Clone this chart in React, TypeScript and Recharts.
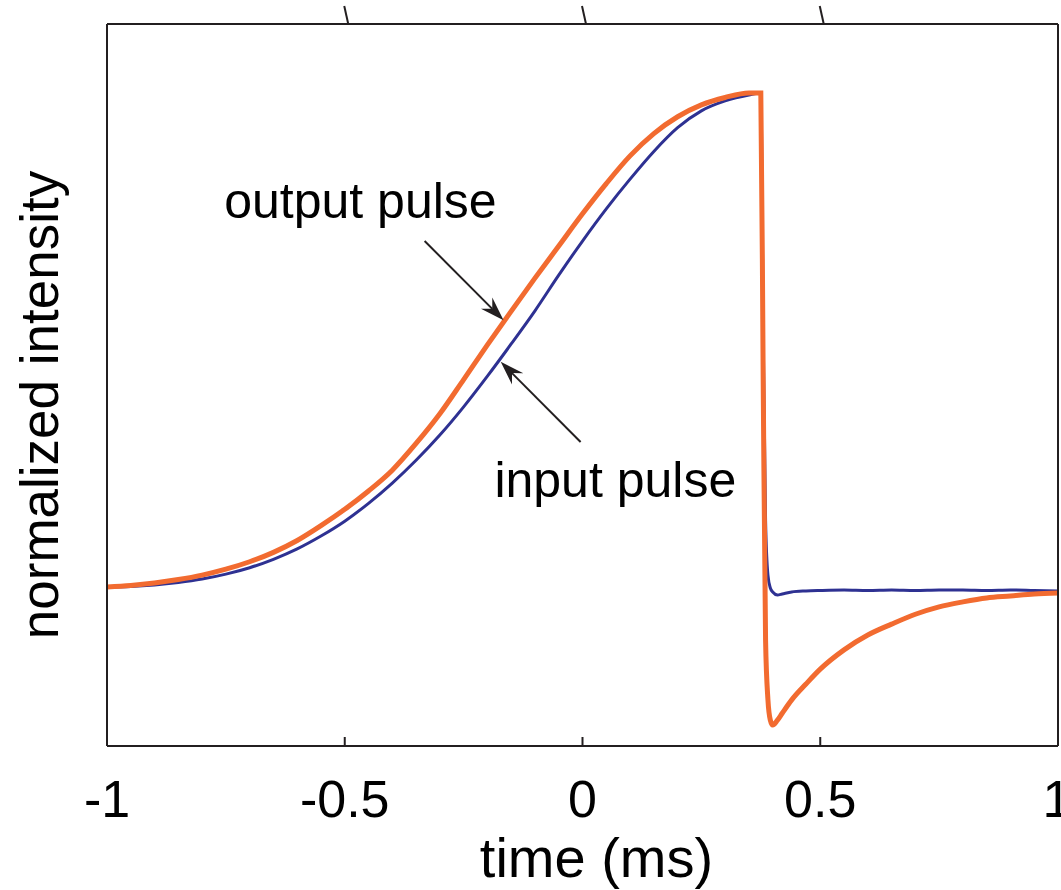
import React from "react";
import { LineChart, Line, XAxis, YAxis, ReferenceLine, ReferenceDot } from "recharts";

// time axis (ms), denser around the fall edge
const times = [
  -1, -0.95, -0.9, -0.85, -0.8, -0.75, -0.7, -0.65, -0.6, -0.55, -0.5, -0.45, -0.4, -0.35, -0.3,
  -0.25, -0.2, -0.15, -0.1, -0.05, 0, 0.05, 0.1, 0.15, 0.2, 0.25, 0.3, 0.35,
  0.375, 0.38, 0.385, 0.39, 0.395, 0.4, 0.41, 0.42, 0.44, 0.47, 0.5, 0.55, 0.6, 0.65,
  0.7, 0.75, 0.8, 0.85, 0.9, 0.95, 1,
];

const inputPulse = [
  0.0, 0.001, 0.004, 0.009, 0.016, 0.026, 0.039, 0.056, 0.077, 0.103, 0.133, 0.169, 0.21, 0.256, 0.307,
  0.364, 0.426, 0.491, 0.558, 0.63, 0.699, 0.764, 0.824, 0.88, 0.928, 0.962, 0.982, 0.994,
  0.998, 0.519, 0.135, 0.024, -0.002, -0.01, -0.016, -0.014, -0.01, -0.008, -0.007, -0.006, -0.007, -0.006,
  -0.007, -0.006, -0.006, -0.007, -0.006, -0.007, -0.008,
];

const outputPulse = [
  0.0, 0.003, 0.008, 0.015, 0.024, 0.036, 0.051, 0.07, 0.094, 0.124, 0.157, 0.194, 0.236, 0.29, 0.35,
  0.419, 0.489, 0.557, 0.624, 0.689, 0.754, 0.815, 0.871, 0.916, 0.95, 0.974, 0.989, 0.998,
  0.998, 0.418, -0.107, -0.228, -0.269, -0.279, -0.269, -0.255, -0.228, -0.196, -0.166, -0.127, -0.097, -0.075,
  -0.055, -0.04, -0.03, -0.022, -0.018, -0.014, -0.012,
];

const xTicks = [-1, -0.5, 0, 0.5, 1];
const xTickLabels = ["-1", "-0.5", "0", "0.5", "1"];
const topTicks = [-0.5, 0, 0.5];

const data = times.map((t, i) => ({ t, input: inputPulse[i], output: outputPulse[i] }));

const INK = "#231f20";
const ORANGE = "#f26b30";
const BLUE = "#2e3192";
const FONT = "'Liberation Sans', Arial, Helvetica, sans-serif";

function BottomTick(props: any) {
  const { x, y, payload } = props;
  const i = xTicks.indexOf(payload.value);
  const inner = payload.value > -1 && payload.value < 1;
  return (
    <g>
      {inner && <line x1={x} y1={y} x2={x} y2={y - 9} stroke={INK} strokeWidth={2} />}
      <text x={x} y={y + 71} textAnchor="middle" fontSize={52} fontFamily={FONT} fill="#000">
        {xTickLabels[i]}
      </text>
    </g>
  );
}

function TopTick(props: any) {
  const { x, y } = props;
  // the scanned figure is slightly sheared, ticks lean left
  return <line x1={x + 3.5} y1={y} x2={x - 0.5} y2={y - 18} stroke={INK} strokeWidth={2} />;
}

function Arrow(props: any) {
  const { x1, y1, x2, y2 } = props;
  const dx = x2 - x1;
  const dy = y2 - y1;
  const len = Math.hypot(dx, dy) || 1;
  const ux = dx / len;
  const uy = dy / len;
  const px = -uy;
  const py = ux;
  const L = 24, W = 8, N = 16;
  const bx = x2 - ux * L, by = y2 - uy * L;
  const nx = x2 - ux * N, ny = y2 - uy * N;
  const pts = [
    [x2, y2],
    [bx + px * W, by + py * W],
    [nx, ny],
    [bx - px * W, by - py * W],
  ].map((p) => p.join(",")).join(" ");
  return (
    <g>
      <line x1={x1} y1={y1} x2={nx} y2={ny} stroke={INK} strokeWidth={2} />
      <polygon points={pts} fill={INK} />
    </g>
  );
}

function note(text: string) {
  return (p: any) => {
    const vb = p.viewBox || {};
    const cx = (vb.x ?? 0) + (vb.width ?? 0) / 2;
    const cy = (vb.y ?? 0) + (vb.height ?? 0) / 2;
    return (
      <text x={cx} y={cy} dy="0.355em" textAnchor="middle" fontSize={50} fontFamily={FONT} fill="#000">
        {text}
      </text>
    );
  };
}

function YTitle(p: any) {
  const vb = p.viewBox || { x: 0, y: 24, width: 107, height: 722 };
  const x = vb.x + 39;
  const y = vb.y + vb.height / 2 + 20;
  return (
    <text x={x} y={y} dy="0.355em" transform={`rotate(-90, ${x}, ${y})`} textAnchor="middle"
      fontSize={53} fontFamily={FONT} fill="#000">
      normalized intensity
    </text>
  );
}

function XTitle(p: any) {
  const vb = p.viewBox || { x: 107, y: 746, width: 951, height: 144 };
  return (
    <text x={vb.x + vb.width / 2 + 14} y={vb.y + 131} textAnchor="middle" fontSize={56} fontFamily={FONT} fill="#000">
      time (ms)
    </text>
  );
}

export default function App() {
  const yDomain = [-0.3212, 1.1374];
  return (
    <div style={{ position: "absolute", left: 0, top: 0, width: 1061, height: 890, background: "#fff" }}>
      <LineChart width={1061} height={890} data={data} margin={{ top: 0, right: 0, bottom: 0, left: 0 }}>
        <XAxis
          xAxisId="bottom"
          dataKey="t"
          type="number"
          domain={[-1, 1]}
          ticks={xTicks}
          allowDataOverflow
          height={144}
          tickSize={0}
          tickMargin={0}
          tickLine={false}
          tick={<BottomTick />}
          axisLine={{ stroke: INK, strokeWidth: 2 }}
          label={{ content: (p: any) => <XTitle {...p} /> }}
        />
        <XAxis
          xAxisId="top"
          orientation="top"
          dataKey="t"
          type="number"
          domain={[-1, 1]}
          ticks={topTicks}
          allowDataOverflow
          height={24}
          tickSize={0}
          tickMargin={0}
          tickLine={false}
          tick={<TopTick />}
          axisLine={{ stroke: INK, strokeWidth: 2 }}
        />
        <YAxis
          yAxisId="left"
          type="number"
          domain={yDomain}
          allowDataOverflow
          width={107}
          tick={false}
          tickLine={false}
          axisLine={{ stroke: INK, strokeWidth: 2 }}
          label={{ content: (p: any) => <YTitle {...p} /> }}
        />
        <YAxis
          yAxisId="right"
          orientation="right"
          type="number"
          domain={yDomain}
          allowDataOverflow
          width={3}
          tick={false}
          tickLine={false}
          axisLine={{ stroke: INK, strokeWidth: 2 }}
        />
        <Line
          xAxisId="bottom"
          yAxisId="left"
          type="monotone"
          dataKey="input"
          stroke={BLUE}
          strokeWidth={3}
          dot={false}
          isAnimationActive={false}
        />
        <Line
          xAxisId="bottom"
          yAxisId="left"
          type="monotone"
          dataKey="output"
          stroke={ORANGE}
          strokeWidth={5}
          dot={false}
          isAnimationActive={false}
        />
        <ReferenceLine
          xAxisId="bottom"
          yAxisId="left"
          segment={[{ x: -0.332, y: 0.699 }, { x: -0.166, y: 0.539 }]}
          shape={(p: any) => <Arrow {...p} />}
        />
        <ReferenceLine
          xAxisId="bottom"
          yAxisId="left"
          segment={[{ x: -0.004, y: 0.293 }, { x: -0.172, y: 0.455 }]}
          shape={(p: any) => <Arrow {...p} />}
        />
        <ReferenceDot
          xAxisId="bottom"
          yAxisId="left"
          x={-0.467}
          y={0.782}
          r={0}
          fill="none"
          stroke="none"
          label={{ content: note("output pulse") }}
        />
        <ReferenceDot
          xAxisId="bottom"
          yAxisId="left"
          x={0.069}
          y={0.218}
          r={0}
          fill="none"
          stroke="none"
          label={{ content: note("input pulse") }}
        />
      </LineChart>
    </div>
  );
}
